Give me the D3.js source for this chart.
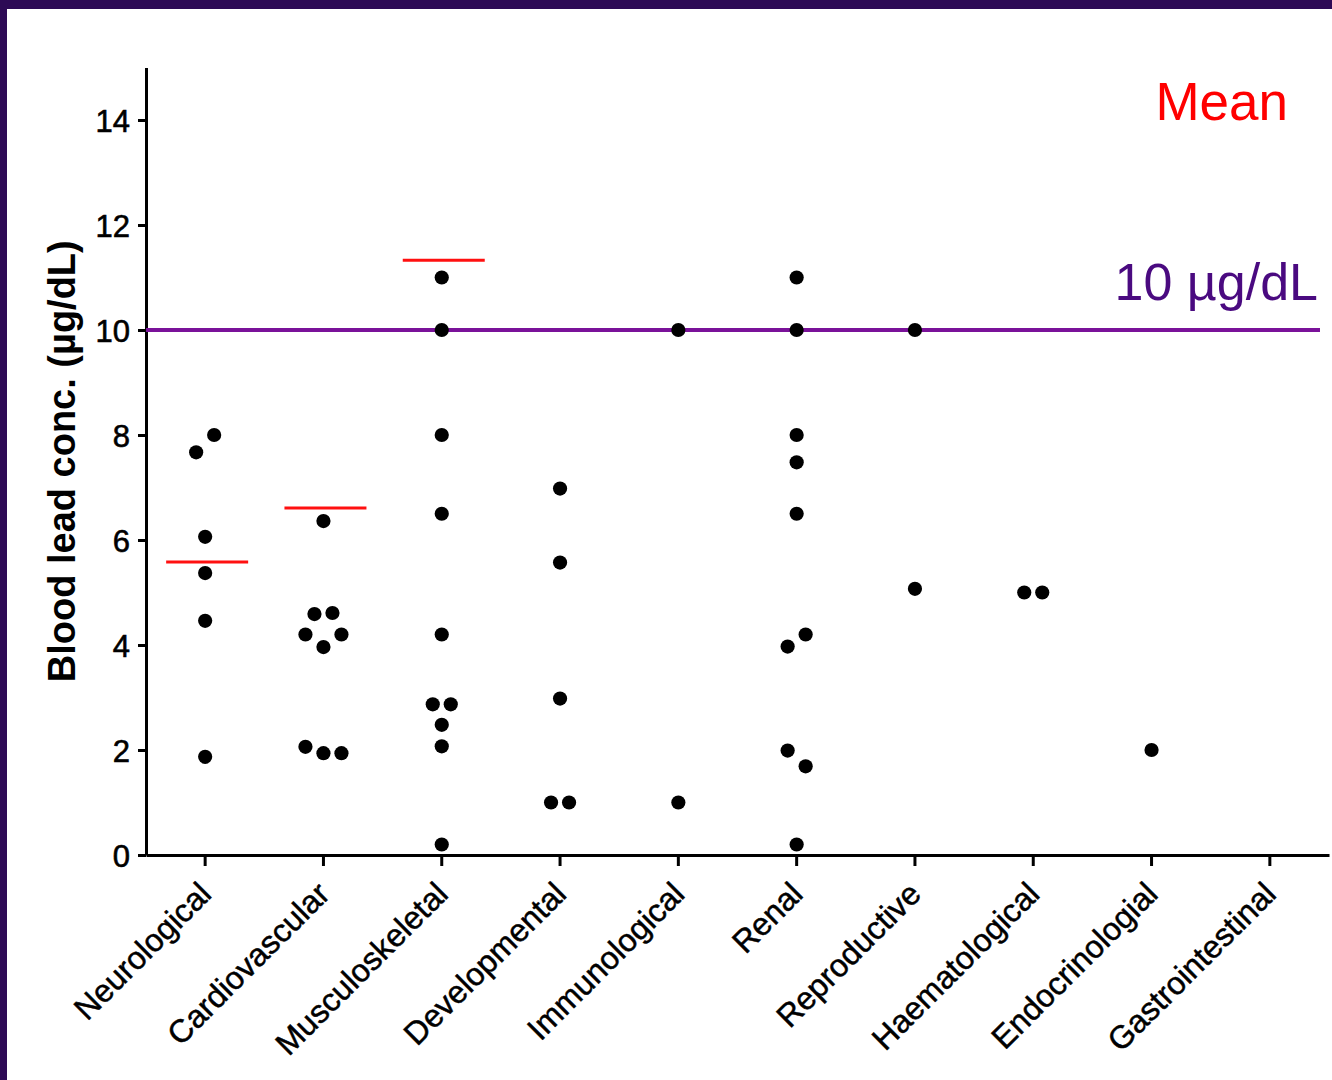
<!DOCTYPE html>
<html>
<head>
<meta charset="utf-8">
<script src="https://cdn.jsdelivr.net/npm/d3@7"></script>
<style>
  html, body { margin: 0; padding: 0; background: #ffffff; }
  svg { display: block; }
  text { font-family: "Liberation Sans", Arial, Helvetica, sans-serif; }
</style>
</head>
<body>
<svg id="chart" width="1332" height="1080"></svg>
<script>
// ---------------- data ----------------
const categories = ["Neurological", "Cardiovascular", "Musculoskeletal", "Developmental",
  "Immunological", "Renal", "Reproductive", "Haematological", "Endocrinologial", "Gastrointestinal"];

const neurological    = [7.67, 8.0, 6.06, 5.37, 4.46, 1.87];
const cardiovascular  = [6.36, 4.59, 4.61, 4.2, 3.96, 4.2, 2.06, 1.94, 1.94];
const musculoskeletal = [11.0, 10.0, 8.0, 6.5, 4.2, 2.87, 2.87, 2.48, 2.07, 0.2];
const developmental   = [6.98, 5.57, 2.98, 1.0, 1.0];
const immunological   = [10.0, 1.0];
const renal           = [11.0, 10.0, 8.0, 7.48, 6.5, 3.97, 4.2, 1.99, 1.69, 0.2];
const reproductive    = [10.0, 5.07];
const haematological  = [5.0, 5.0];
const endocrinologial = [2.0];
const gastrointestinal = [];

const seriesValues = [neurological, cardiovascular, musculoskeletal, developmental,
  immunological, renal, reproductive, haematological, endocrinologial, gastrointestinal];

const meanValues = [5.58, 6.61, 11.33, null, null, null, null, null, null, null];
const yTicks = [0, 2, 4, 6, 8, 10, 12, 14];
const referenceLevel = 10;
const yTitle = "Blood lead conc. (µg/dL)";
const refLabel = "10 µg/dL";
const meanLabel = "Mean";

// ---------------- layout ----------------
const svg = d3.select("#chart");
const W = 1332, H = 1080;

svg.append("rect").attr("x", 0).attr("y", 0).attr("width", W).attr("height", H).attr("fill", "#ffffff");
// frame (dark purple edges)
svg.append("rect").attr("x", 0).attr("y", 0).attr("width", 7).attr("height", H).attr("fill", "#2d0a55");
svg.append("rect").attr("x", 0).attr("y", 0).attr("width", W).attr("height", 9).attr("fill", "#2d0a55");

const x = d3.scaleBand().domain(categories).range([146, 1329]).padding(0);
const y = d3.scaleLinear().domain([0, 15]).range([855, 67.5]);

// ---------------- axes ----------------
const yAxis = svg.append("g").attr("transform", "translate(146,0)")
  .call(d3.axisLeft(y).tickValues(yTicks).tickSize(8).tickSizeOuter(0).tickPadding(8).tickFormat(d3.format("d")));
yAxis.select(".domain").attr("stroke", "#000").attr("stroke-width", 3);
yAxis.selectAll(".tick line").attr("stroke", "#000").attr("stroke-width", 3);
yAxis.selectAll(".tick text").attr("fill", "#000").style("font-size", "31px")
  .attr("stroke", "#000").attr("stroke-width", 0.6)
  .attr("dy", "0.36em");

const xAxis = svg.append("g").attr("transform", "translate(0,855)")
  .call(d3.axisBottom(x).tickSize(11).tickSizeOuter(0));
xAxis.select(".domain").attr("stroke", "#000").attr("stroke-width", 3);
xAxis.selectAll(".tick line").attr("stroke", "#000").attr("stroke-width", 3);
xAxis.selectAll(".tick text").attr("fill", "#000").style("font-size", "32px")
  .attr("stroke", "#000").attr("stroke-width", 0.5)
  .attr("x", 0).attr("y", 0).attr("dy", 0)
  .attr("text-anchor", "end")
  .attr("transform", "translate(8,41) rotate(-45)");

svg.append("text")
  .attr("transform", "translate(75," + ((y.range()[0] + y.range()[1]) / 2) + ") rotate(-90)")
  .attr("text-anchor", "middle")
  .style("font-size", "38px").style("font-weight", "bold")
  .attr("fill", "#000")
  .text(yTitle);

// ---------------- reference line ----------------
svg.append("line")
  .attr("x1", x.range()[0]).attr("x2", x.range()[1] - 9)
  .attr("y1", y(referenceLevel)).attr("y2", y(referenceLevel))
  .attr("stroke", "#7a1299").attr("stroke-width", 4);

svg.append("text")
  .attr("x", 1318).attr("y", 300)
  .attr("text-anchor", "end")
  .style("font-size", "52px")
  .attr("fill", "#4a0a80")
  .text(refLabel);

svg.append("text")
  .attr("x", 1288).attr("y", 120)
  .attr("text-anchor", "end")
  .style("font-size", "53px")
  .attr("fill", "#ff0000")
  .text(meanLabel);

// ---------------- mean lines ----------------
const meanData = categories.map((c, i) => ({ c, m: meanValues[i] })).filter(d => d.m != null);
svg.append("g").selectAll("line").data(meanData).join("line")
  .attr("x1", d => x(d.c) + x.bandwidth() / 2 - 39)
  .attr("x2", d => x(d.c) + x.bandwidth() / 2 + 43)
  .attr("y1", d => y(d.m)).attr("y2", d => y(d.m))
  .attr("stroke", "#ff1010").attr("stroke-width", 3);

// ---------------- beeswarm points ----------------
const step = 18, rowGap = 18.5;
function swarm(vals) {
  const items = vals.map((v, i) => ({ v, i, off: 0 }));
  const sorted = items.slice().sort((a, b) => b.v - a.v || a.i - b.i);
  const rows = [];
  sorted.forEach(d => {
    const r = rows[rows.length - 1];
    if (r && (y(d.v) - y(r[0].v)) < rowGap) r.push(d); else rows.push([d]);
  });
  rows.forEach(r => {
    r.sort((a, b) => a.i - b.i);
    r.forEach((d, k) => { d.off = (k - (r.length - 1) / 2) * step; });
  });
  return items;
}

const points = [];
categories.forEach((c, ci) => {
  swarm(seriesValues[ci]).forEach(d => points.push({ c, v: d.v, off: d.off }));
});

svg.append("g").selectAll("circle").data(points).join("circle")
  .attr("cx", d => x(d.c) + x.bandwidth() / 2 + d.off)
  .attr("cy", d => y(d.v))
  .attr("r", 7.1)
  .attr("fill", "#000");
</script>
</body>
</html>
